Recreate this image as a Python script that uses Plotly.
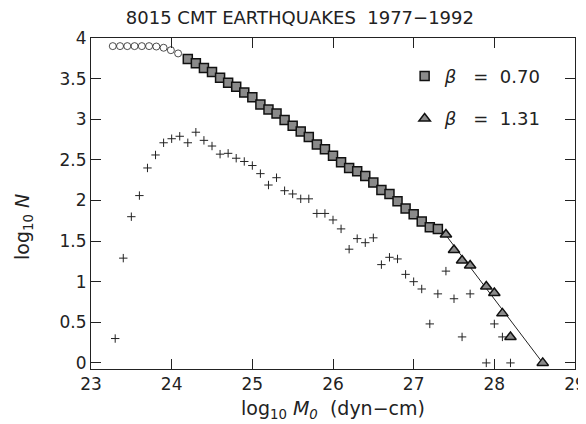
import plotly.graph_objects as go

# ---- data ----
circle_x = [23.27, 23.36, 23.45, 23.54, 23.63, 23.72, 23.81, 23.90, 23.99, 24.08]
circle_y = [3.90, 3.90, 3.90, 3.90, 3.90, 3.90, 3.895, 3.88, 3.85, 3.81]

square_x = [24.2, 24.3, 24.4, 24.5, 24.6, 24.7, 24.8, 24.9, 25.0, 25.1,
            25.2, 25.3, 25.4, 25.5, 25.6, 25.7, 25.8, 25.9, 26.0, 26.1,
            26.2, 26.3, 26.4, 26.5, 26.6, 26.7, 26.8, 26.9, 27.0, 27.1,
            27.2, 27.3]
square_y = [3.74, 3.69, 3.63, 3.58, 3.51, 3.45, 3.40, 3.33, 3.27, 3.18,
            3.12, 3.07, 2.99, 2.92, 2.85, 2.78, 2.69, 2.63, 2.55, 2.47,
            2.40, 2.36, 2.30, 2.22, 2.13, 2.08, 1.99, 1.90, 1.83, 1.74,
            1.67, 1.65]

tri_x = [27.4, 27.5, 27.6, 27.7, 27.9, 28.0, 28.1, 28.2, 28.6]
tri_y = [1.58, 1.39, 1.26, 1.20, 0.94, 0.86, 0.61, 0.32, 0.0]

plus_x = [23.3, 23.4, 23.5, 23.6, 23.7, 23.8, 23.9, 24.0, 24.1, 24.2,
          24.3, 24.4, 24.5, 24.6, 24.7, 24.8, 24.9, 25.0, 25.1, 25.2,
          25.3, 25.4, 25.5, 25.6, 25.7, 25.8, 25.9, 26.0, 26.1, 26.2,
          26.3, 26.4, 26.5, 26.6, 26.7, 26.8, 26.9, 27.0, 27.1, 27.2,
          27.3, 27.4, 27.5, 27.6, 27.7, 27.9, 28.0, 28.1, 28.2]
plus_y = [0.30, 1.29, 1.80, 2.06, 2.40, 2.56, 2.71, 2.76, 2.79, 2.71,
          2.84, 2.74, 2.67, 2.57, 2.58, 2.52, 2.48, 2.43, 2.33, 2.19,
          2.28, 2.12, 2.08, 2.02, 2.02, 1.84, 1.84, 1.76, 1.65, 1.40,
          1.53, 1.48, 1.54, 1.21, 1.30, 1.28, 1.09, 1.00, 0.91, 0.48,
          0.85, 1.13, 0.79, 0.32, 0.85, 0.00, 0.48, 0.32, 0.00]

beta_labels = ["0.70", "1.31"]
beta2 = 1.31
fit2_x = [27.3, 28.6]
fit2_y = [beta2 * (fit2_x[-1] - x) for x in fit2_x]

x_ticks = [23, 24, 25, 26, 27, 28, 29]
y_ticks = [0, 0.5, 1, 1.5, 2, 2.5, 3, 3.5, 4]
y_ticklabels = ["0", "0.5", "1", "1.5", "2", "2.5", "3", "3.5", "4"]

X_RANGE = [23, 29]
Y_RANGE = [-0.075, 4.0]

INK = "#222222"
FONT = "DejaVu Sans, Liberation Sans, sans-serif"
NB = "\u00a0"

fig = go.Figure()

# incremental counts
fig.add_trace(go.Scatter(
    x=plus_x, y=plus_y, mode="markers", showlegend=False,
    marker=dict(symbol="cross-thin", size=6, color=INK,
                line=dict(color=INK, width=1))))

# cumulative, below threshold
fig.add_trace(go.Scatter(
    x=circle_x, y=circle_y, mode="markers", showlegend=False,
    marker=dict(symbol="circle-open", size=7, color=INK,
                line=dict(color=INK, width=0.8))))

# line through squares
fig.add_trace(go.Scatter(
    x=square_x, y=square_y, mode="lines", showlegend=False,
    line=dict(color=INK, width=1)))

# fit line for triangles
fig.add_trace(go.Scatter(
    x=fit2_x, y=fit2_y, mode="lines", showlegend=False,
    line=dict(color=INK, width=1)))

fig.add_trace(go.Scatter(
    x=square_x, y=square_y, mode="markers",
    name="<i>β</i>" + NB * 3 + "=" + NB * 2 + beta_labels[0], legendgroup="a",
    marker=dict(symbol="square", size=9, color="#8a8a8a",
                line=dict(color="#111111", width=1.5))))

fig.add_trace(go.Scatter(
    x=tri_x, y=tri_y, mode="markers",
    name="<i>β</i>" + NB * 3 + "=" + NB * 2 + beta_labels[1], legendgroup="b",
    marker=dict(symbol="triangle-up", size=10, color="#8a8a8a",
                line=dict(color="#111111", width=1.5))))

axis_common = dict(
    showline=True, linecolor=INK, linewidth=1, mirror="allticks",
    ticks="inside", ticklen=10, tickwidth=1.2, tickcolor=INK,
    showticklabels=True,
    showgrid=False, zeroline=False, automargin=False,
    tickfont=dict(family=FONT, size=17, color=INK),
)

# page body has an 8px margin, so the figure is 8px smaller than the window
fig.update_layout(
    width=578, height=416,
    margin=dict(l=83, r=11, t=30, b=55),
    paper_bgcolor="white", plot_bgcolor="white",
    font=dict(family=FONT, color=INK),
    title=dict(text="8015 CMT EARTHQUAKES" + NB * 2 + "1977−1992",
               x=0.505, xanchor="center", y=0.976, yanchor="middle",
               font=dict(family=FONT, size=18, color=INK)),
    xaxis=dict(range=X_RANGE, tickvals=x_ticks,
               title=dict(text="log<sub>10</sub>" + NB + "<i>M</i><sub><i>0</i></sub>" + NB + " (dyn−cm)",
                          font=dict(family=FONT, size=19, color=INK), standoff=8),
               **axis_common),
    yaxis=dict(range=Y_RANGE, tickvals=y_ticks, ticktext=y_ticklabels,
               ticksuffix=NB,
               **axis_common),
    annotations=[dict(text="log<sub>10</sub> <i>N</i>", textangle=-90,
                      xref="paper", yref="paper", x=-0.14, y=0.43,
                      xanchor="center", yanchor="middle", showarrow=False,
                      font=dict(family=FONT, size=19, color=INK))],
    legend=dict(x=0.648, y=0.94, xanchor="left", yanchor="top",
                bgcolor="rgba(0,0,0,0)", borderwidth=0,
                font=dict(family=FONT, size=18, color=INK),
                tracegroupgap=16, itemsizing="trace"),
)

fig.write_html("out.html")
